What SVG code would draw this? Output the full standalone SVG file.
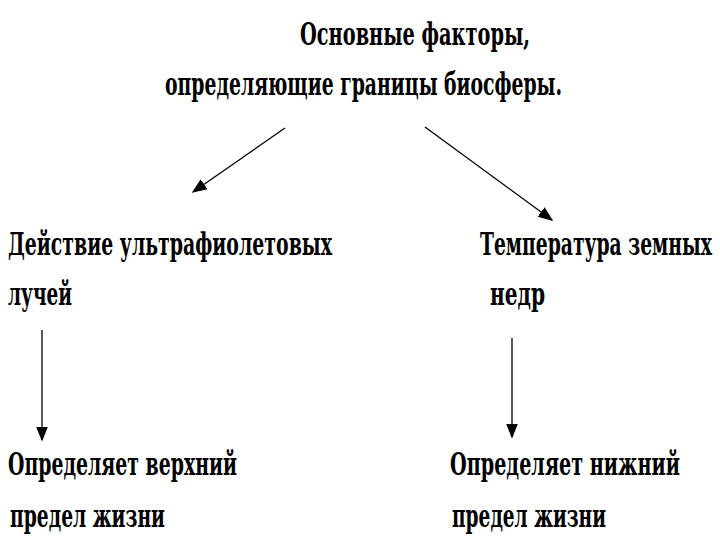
<svg xmlns="http://www.w3.org/2000/svg" width="720" height="540" viewBox="0 0 720 540">
<style>
text{font-family:"DejaVu Serif Condensed","Liberation Serif",serif;font-weight:bold;font-size:32px;fill:#000}
.c{stroke:#000;stroke-width:1.3;fill:none;marker-end:url(#a)}
</style>
<defs><marker id="a" viewBox="0 0 10 10" refX="9" refY="5" markerWidth="15" markerHeight="15" markerUnits="userSpaceOnUse" orient="auto"><path d="M0,1L10,5L0,9z" fill="#000"/></marker></defs>
<rect width="720" height="540" fill="#fff"/>
<g id="title"><text x="300" y="45" textLength="230" lengthAdjust="spacingAndGlyphs">Основные факторы,</text>
<text x="165" y="95" textLength="397" lengthAdjust="spacingAndGlyphs">определяющие границы биосферы.</text></g>
<g id="uv"><text x="8" y="255" textLength="324" lengthAdjust="spacingAndGlyphs">Действие ультрафиолетовых</text>
<text x="8" y="305" textLength="64" lengthAdjust="spacingAndGlyphs">лучей</text></g>
<g id="temp"><text x="480" y="255" textLength="232" lengthAdjust="spacingAndGlyphs">Температура земных</text>
<text x="490" y="305" textLength="55" lengthAdjust="spacingAndGlyphs">недр</text></g>
<g id="upper"><text x="8" y="475" textLength="229" lengthAdjust="spacingAndGlyphs">Определяет верхний</text>
<text x="10" y="527" textLength="155" lengthAdjust="spacingAndGlyphs">предел жизни</text></g>
<g id="lower"><text x="450" y="475" textLength="230" lengthAdjust="spacingAndGlyphs">Определяет нижний</text>
<text x="452" y="527" textLength="154" lengthAdjust="spacingAndGlyphs">предел жизни</text></g>
<g id="connectors">
<line class="c" x1="285" y1="128" x2="193" y2="192"/>
<line class="c" x1="425" y1="127" x2="552" y2="220"/>
<line class="c" x1="42" y1="330" x2="42" y2="440"/>
<line class="c" x1="512" y1="338" x2="512" y2="437"/>
</g>
</svg>
